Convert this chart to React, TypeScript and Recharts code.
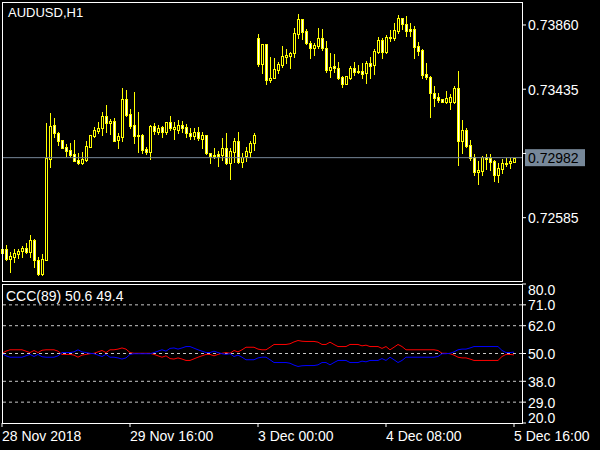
import React from "react";
import {
  Bar,
  ComposedChart,
  Line,
  LineChart,
  ReferenceLine,
  XAxis,
  YAxis
} from "recharts";

// AUDUSD H1, bars from 28 Nov 08:00 to 5 Dec 16:00
const opens = [
  0.72354, 0.72376, 0.72314, 0.72327, 0.72345, 0.72367, 0.72383, 0.7236, 0.72438, 0.72305,
  0.72213, 0.72305, 0.72975, 0.73198, 0.73148, 0.73099, 0.73055, 0.73033, 0.73007, 0.72967,
  0.72949, 0.72967, 0.73055, 0.73128, 0.73161, 0.73177, 0.73258, 0.7321, 0.73225, 0.73099,
  0.73121, 0.73368, 0.73271, 0.73198, 0.73132, 0.73132, 0.7304, 0.73022, 0.73192, 0.73154,
  0.73187, 0.73154, 0.73218, 0.7317, 0.73165, 0.73198, 0.73183, 0.73148, 0.73126, 0.73154,
  0.73106, 0.73132, 0.73015, 0.73, 0.73007, 0.73, 0.73044, 0.72945, 0.73022, 0.73093,
  0.72956, 0.72993, 0.73022, 0.73077, 0.73772, 0.736, 0.73732, 0.73496, 0.73507, 0.73562,
  0.73595, 0.7365, 0.73657, 0.73673, 0.73799, 0.73898, 0.7382, 0.73739, 0.7371, 0.73723,
  0.73772, 0.7371, 0.73562, 0.73589, 0.73574, 0.73518, 0.7347, 0.73511, 0.73574, 0.73558,
  0.73556, 0.7354, 0.73607, 0.73595, 0.73683, 0.73761, 0.73679, 0.73779, 0.73772, 0.73822,
  0.73904, 0.73865, 0.73834, 0.73834, 0.73721, 0.73695, 0.73536, 0.73518, 0.73408, 0.73382,
  0.73368, 0.73349, 0.73353, 0.73353, 0.73441, 0.73093, 0.73165, 0.73066, 0.72989, 0.72889,
  0.72896, 0.72989, 0.72978, 0.7296, 0.72868, 0.72907, 0.72938, 0.72945, 0.72956
];
const highs = [
  0.72381, 0.72405, 0.72358, 0.72378, 0.72378, 0.72398, 0.72416, 0.72471, 0.72442, 0.72323,
  0.72345, 0.73214, 0.7328, 0.73243, 0.73154, 0.73099, 0.73073, 0.73077, 0.73099, 0.73011,
  0.73018, 0.73093, 0.73132, 0.73187, 0.7322, 0.73286, 0.73331, 0.73236, 0.73243, 0.73144,
  0.73441, 0.7343, 0.73304, 0.73415, 0.73282, 0.73139, 0.73051, 0.73198, 0.7321, 0.73196,
  0.73192, 0.7322, 0.73258, 0.7322, 0.73232, 0.73225, 0.73203, 0.73177, 0.73177, 0.73183,
  0.73154, 0.73132, 0.73015, 0.73044, 0.73026, 0.7311, 0.73148, 0.73044, 0.7311, 0.73154,
  0.73011, 0.73051, 0.73093, 0.73148, 0.73801, 0.73732, 0.73732, 0.7365, 0.7364, 0.73617,
  0.73721, 0.73699, 0.73683, 0.73838, 0.73933, 0.73898, 0.73834, 0.73754, 0.73743, 0.73842,
  0.73834, 0.73754, 0.73673, 0.73666, 0.73617, 0.73525, 0.73523, 0.73589, 0.73613, 0.73595,
  0.73607, 0.73622, 0.7365, 0.73701, 0.73779, 0.73772, 0.73794, 0.73827, 0.73871, 0.73926,
  0.73904, 0.7392, 0.73871, 0.73853, 0.73746, 0.73701, 0.73607, 0.73523, 0.73456, 0.73408,
  0.73368, 0.73423, 0.73402, 0.73456, 0.73556, 0.73232, 0.73177, 0.73099, 0.73005, 0.7296,
  0.72995, 0.73005, 0.73005, 0.72967, 0.72945, 0.72974, 0.72978, 0.72978, 0.72982
];
const lows = [
  0.72348, 0.72305, 0.72226, 0.72294, 0.72319, 0.72327, 0.7235, 0.72327, 0.72261, 0.72208,
  0.72208, 0.72305, 0.72923, 0.73117, 0.73066, 0.73044, 0.72993, 0.72989, 0.72962, 0.7294,
  0.7294, 0.72962, 0.73055, 0.73121, 0.73144, 0.73132, 0.73154, 0.73139, 0.73095, 0.73044,
  0.73095, 0.73258, 0.73177, 0.73081, 0.73022, 0.73011, 0.73007, 0.72975, 0.73139, 0.73139,
  0.73121, 0.73139, 0.73165, 0.73106, 0.73148, 0.73154, 0.73117, 0.73104, 0.73104, 0.73099,
  0.73044, 0.73007, 0.72949, 0.72978, 0.72927, 0.72967, 0.7294, 0.72839, 0.72956, 0.72949,
  0.72919, 0.72962, 0.72985, 0.73033, 0.73591, 0.7354, 0.7347, 0.73485, 0.73507, 0.7354,
  0.73584, 0.73611, 0.73574, 0.7365, 0.73772, 0.73765, 0.73732, 0.73644, 0.73662, 0.7371,
  0.73695, 0.73551, 0.73518, 0.73551, 0.73503, 0.73452, 0.7347, 0.73503, 0.73529, 0.7354,
  0.73507, 0.73474, 0.73511, 0.73534, 0.73673, 0.73644, 0.73673, 0.73754, 0.73761, 0.73805,
  0.73834, 0.73789, 0.73789, 0.73644, 0.73662, 0.73511, 0.73503, 0.73253, 0.73326, 0.73353,
  0.73349, 0.73342, 0.73304, 0.73346, 0.72934, 0.73011, 0.73055, 0.72967, 0.72868, 0.72808,
  0.72868, 0.72907, 0.72901, 0.72828, 0.72819, 0.72879, 0.72929, 0.72912, 0.72952
];
const closes = [
  0.72376, 0.7231, 0.72332, 0.7235, 0.72367, 0.72383, 0.72356, 0.72438, 0.72305, 0.72213,
  0.7231, 0.7298, 0.73192, 0.73144, 0.73095, 0.73044, 0.73028, 0.73, 0.72962, 0.72945,
  0.72974, 0.7306, 0.73132, 0.73165, 0.73177, 0.73258, 0.7321, 0.73227, 0.73095, 0.73126,
  0.73368, 0.73267, 0.73192, 0.73128, 0.73126, 0.73033, 0.73022, 0.73192, 0.73161, 0.73181,
  0.73154, 0.73218, 0.73181, 0.73187, 0.73196, 0.73177, 0.73148, 0.73126, 0.73154, 0.7311,
  0.73132, 0.73015, 0.72993, 0.72993, 0.72993, 0.73044, 0.72945, 0.73028, 0.73093, 0.72956,
  0.72989, 0.73028, 0.73077, 0.73132, 0.736, 0.73732, 0.73496, 0.73507, 0.73569, 0.736,
  0.73655, 0.73662, 0.73673, 0.73805, 0.73898, 0.73816, 0.73739, 0.7371, 0.73728, 0.73772,
  0.7371, 0.73562, 0.73584, 0.73574, 0.73511, 0.7347, 0.73523, 0.73574, 0.73551, 0.73551,
  0.73538, 0.73607, 0.73591, 0.73688, 0.73761, 0.73679, 0.73779, 0.73779, 0.73827, 0.73904,
  0.73865, 0.7382, 0.7382, 0.73716, 0.73688, 0.73529, 0.73518, 0.73408, 0.73379, 0.73366,
  0.73349, 0.73375, 0.73382, 0.73441, 0.73093, 0.73165, 0.73062, 0.72982, 0.72889, 0.72901,
  0.72989, 0.72974, 0.72956, 0.72868, 0.72912, 0.72945, 0.72945, 0.7296, 0.72982
];

// CCC(89) buffers: first (blue), second (red)
const cccFirst = [
  49.9, 49.0, 48.4, 48.4, 48.4, 48.4, 49.0, 49.6, 48.7, 49.6,
  48.6, 48.4, 48.4, 48.4, 49.0, 50.4, 50.4, 50.4, 50.7, 51.6,
  50.7, 50.4, 50.1, 49.9, 49.3, 48.7, 49.6, 48.4, 48.4, 48.1,
  47.6, 48.1, 49.6, 49.9, 49.9, 49.9, 49.9, 49.9, 50.4, 51.0,
  51.6, 51.0, 52.2, 52.4, 51.9, 52.4, 53.0, 53.0, 52.3, 51.6,
  51.0, 50.4, 50.4, 51.0, 50.4, 49.9, 49.6, 49.9, 48.7, 49.3,
  48.4, 47.3, 47.3, 47.3, 48.1, 48.4, 48.4, 47.3, 46.1, 46.1,
  46.1, 46.1, 45.8, 45.0, 44.4, 44.7, 44.8, 44.8, 44.8, 45.1,
  46.1, 46.1, 45.1, 46.1, 47.0, 47.0, 47.0, 46.1, 46.1, 46.1,
  46.7, 46.4, 47.0, 47.0, 47.0, 47.8, 47.0, 48.4, 47.3, 46.1,
  47.0, 48.4, 48.4, 48.4, 48.4, 48.4, 48.4, 48.4, 48.4, 48.7,
  49.9, 49.9, 50.1, 50.7, 51.6, 51.9, 51.9, 52.4, 53.0, 53.0,
  53.0, 53.0, 53.0, 53.0, 53.0, 51.3, 50.4, 50.4, 50.6
];
const cccSecond = [
  50.1, 51.0, 51.6, 51.6, 51.6, 51.6, 51.0, 50.4, 51.3, 50.4,
  51.4, 51.6, 51.6, 51.6, 51.0, 49.6, 49.6, 49.6, 49.3, 48.4,
  49.3, 49.6, 49.9, 50.1, 50.7, 51.3, 50.4, 51.6, 51.6, 51.9,
  52.4, 51.9, 50.4, 50.1, 50.1, 50.1, 50.1, 50.1, 49.6, 49.0,
  48.4, 49.0, 47.8, 47.6, 48.1, 47.6, 47.0, 47.0, 47.7, 48.4,
  49.0, 49.6, 49.6, 49.0, 49.6, 50.1, 50.4, 50.1, 51.3, 50.7,
  51.6, 52.7, 52.7, 52.7, 51.9, 51.6, 51.6, 52.7, 53.9, 53.9,
  53.9, 53.9, 54.2, 55.0, 55.6, 55.3, 55.2, 55.2, 55.2, 54.9,
  53.9, 53.9, 54.9, 53.9, 53.0, 53.0, 53.0, 53.9, 53.9, 53.9,
  53.3, 53.6, 53.0, 53.0, 53.0, 52.2, 53.0, 51.6, 52.7, 53.9,
  53.0, 51.6, 51.6, 51.6, 51.6, 51.6, 51.6, 51.6, 51.6, 51.3,
  50.1, 50.1, 49.9, 49.3, 48.4, 48.1, 48.1, 47.6, 47.0, 47.0,
  47.0, 47.0, 47.0, 47.0, 47.0, 48.7, 49.6, 49.6, 49.4
];

const timeTicks = [0, 32, 64, 96, 128];
const timeLabels = ["28 Nov 2018", "29 Nov 16:00", "3 Dec 00:00", "4 Dec 08:00", "5 Dec 16:00"];
const priceTicks = [0.7386, 0.73435, 0.7301, 0.72585];
const lastPrice = 0.72982;
const levelTicks = [80, 71, 62, 50, 38, 29, 20];
const levelLines = [71, 62, 50, 38, 29];

const FONT = "'Liberation Sans', Arial, sans-serif";

const bars = opens.map((open, i) => ({
  i,
  open,
  high: highs[i],
  low: lows[i],
  close: closes[i],
  range: [lows[i], highs[i]]
}));

const ccc = cccFirst.map((v, i) => ({ i, first: v, second: cccSecond[i] }));

function Candle(props: any) {
  const { x, y, width, height, payload } = props;
  if (x == null || !payload) return null;
  const { open, close, high, low } = payload;
  const top = Math.min(y, y + height);
  const bottom = Math.max(y, y + height);
  const span = high - low;
  const py = (v: number) => (span > 0 ? top + ((high - v) / span) * (bottom - top) : top);
  const c = Math.round(x + width / 2);
  const bull = close >= open;
  const bTop = Math.round(py(Math.max(open, close)));
  const bBot = Math.round(py(Math.min(open, close)));
  return (
    <g shapeRendering="crispEdges">
      <line x1={c + 0.5} x2={c + 0.5} y1={Math.round(top)} y2={Math.round(bottom) + 1} stroke="#ffff00" />
      <rect
        x={c - 0.5}
        y={bTop + 0.5}
        width={2}
        height={Math.max(bBot - bTop, 1)}
        fill={bull ? "#000000" : "#ffffff"}
        stroke="#ffff00"
      />
    </g>
  );
}

function PriceTick(props: any) {
  const { x, y, payload } = props;
  // the 0.73010 label sits under the bid tag
  if (Math.abs(payload.value - lastPrice) < 0.0005) return null;
  return (
    <text x={x} y={y} dy={5.5} fill="#ffffff" fontSize={14} fontFamily={FONT} textAnchor="start">
      {payload.value.toFixed(5)}
    </text>
  );
}

function LevelTick(props: any) {
  const { x, y, payload } = props;
  // edge labels are pushed inside the panel
  const shift = payload.value === 80 ? 5 : payload.value === 20 ? -5.2 : 0;
  return (
    <text x={x} y={y + shift} dy={5.5} fill="#ffffff" fontSize={14} fontFamily={FONT} textAnchor="start">
      {payload.value.toFixed(1)}
    </text>
  );
}

function TimeTick(props: any) {
  const { x, y, payload } = props;
  const label = timeLabels[timeTicks.indexOf(payload.value)];
  return (
    <text x={x} y={y} dy={12} fill="#ffffff" fontSize={14} fontFamily={FONT} textAnchor="start">
      {label}
    </text>
  );
}

function PriceTag(props: any) {
  const vb = props.viewBox;
  if (!vb) return null;
  const left = vb.x + vb.width + 3;
  return (
    <g>
      <rect x={left} y={vb.y - 8.5} width={60} height={17} fill="#778899" />
      <text x={left + 3} y={vb.y} dy={5.5} fill="#000000" fontSize={14} fontFamily={FONT}>
        {lastPrice.toFixed(5)}
      </text>
    </g>
  );
}

const border = {
  position: "absolute" as const,
  border: "1px solid #ffffff",
  boxSizing: "border-box" as const,
  pointerEvents: "none" as const
};

const caption = {
  position: "absolute" as const,
  color: "#ffffff",
  fontFamily: FONT,
  fontSize: 14,
  lineHeight: "16px",
  whiteSpace: "nowrap" as const
};

export default function App() {
  return (
    <div style={{ position: "absolute", left: 0, top: 0, width: 600, height: 450, background: "#000000", overflow: "hidden" }}>
      <div style={{ position: "absolute", left: 0, top: 0 }}>
        <ComposedChart width={600} height={284} data={bars} margin={{ top: 2, right: 0, bottom: 3, left: 2 }}>
          <XAxis dataKey="i" type="number" domain={[0, 130]} hide />
          <YAxis
            orientation="right"
            width={78}
            domain={[0.72166, 0.74012]}
            allowDataOverflow
            ticks={priceTicks}
            interval={0}
            axisLine={false}
            tickLine={{ stroke: "#ffffff" }}
            tickSize={4}
            tickMargin={2}
            tick={<PriceTick />}
          />
          <ReferenceLine y={lastPrice} stroke="#778899" label={(p: any) => <PriceTag {...p} />} />
          <Bar dataKey="range" barSize={3} shape={<Candle />} isAnimationActive={false} />
        </ComposedChart>
      </div>

      <div style={{ position: "absolute", left: 0, top: 270 }}>
        <LineChart width={600} height={180} data={ccc} margin={{ top: 14, right: 0, bottom: 0, left: 2 }}>
          <XAxis
            dataKey="i"
            type="number"
            domain={[0, 130]}
            ticks={timeTicks}
            interval={0}
            height={27}
            axisLine={false}
            tickLine={{ stroke: "#ffffff" }}
            tickSize={4}
            tickMargin={2}
            tick={<TimeTick />}
          />
          <YAxis
            orientation="right"
            width={78}
            domain={[20, 80]}
            allowDataOverflow
            ticks={levelTicks}
            interval={0}
            axisLine={false}
            tickLine={{ stroke: "#ffffff" }}
            tickSize={4}
            tickMargin={2}
            tick={<LevelTick />}
          />
          {levelLines.map((v) => (
            <ReferenceLine key={v} y={v} stroke="#c8c8c8" strokeDasharray="3 3" />
          ))}
          <Line dataKey="second" type="linear" stroke="#ff0000" strokeWidth={1} dot={false} isAnimationActive={false} />
          <Line dataKey="first" type="linear" stroke="#0000ff" strokeWidth={1} dot={false} isAnimationActive={false} />
        </LineChart>
      </div>

      <div style={{ ...border, left: 2, top: 2, width: 521, height: 280 }} />
      <div style={{ ...border, left: 2, top: 284, width: 521, height: 140 }} />
      <div style={{ ...caption, left: 8, top: 5, fontSize: 13 }}>AUDUSD,H1</div>
      <div style={{ ...caption, left: 6, top: 288 }}>CCC(89) 50.6 49.4</div>
    </div>
  );
}
